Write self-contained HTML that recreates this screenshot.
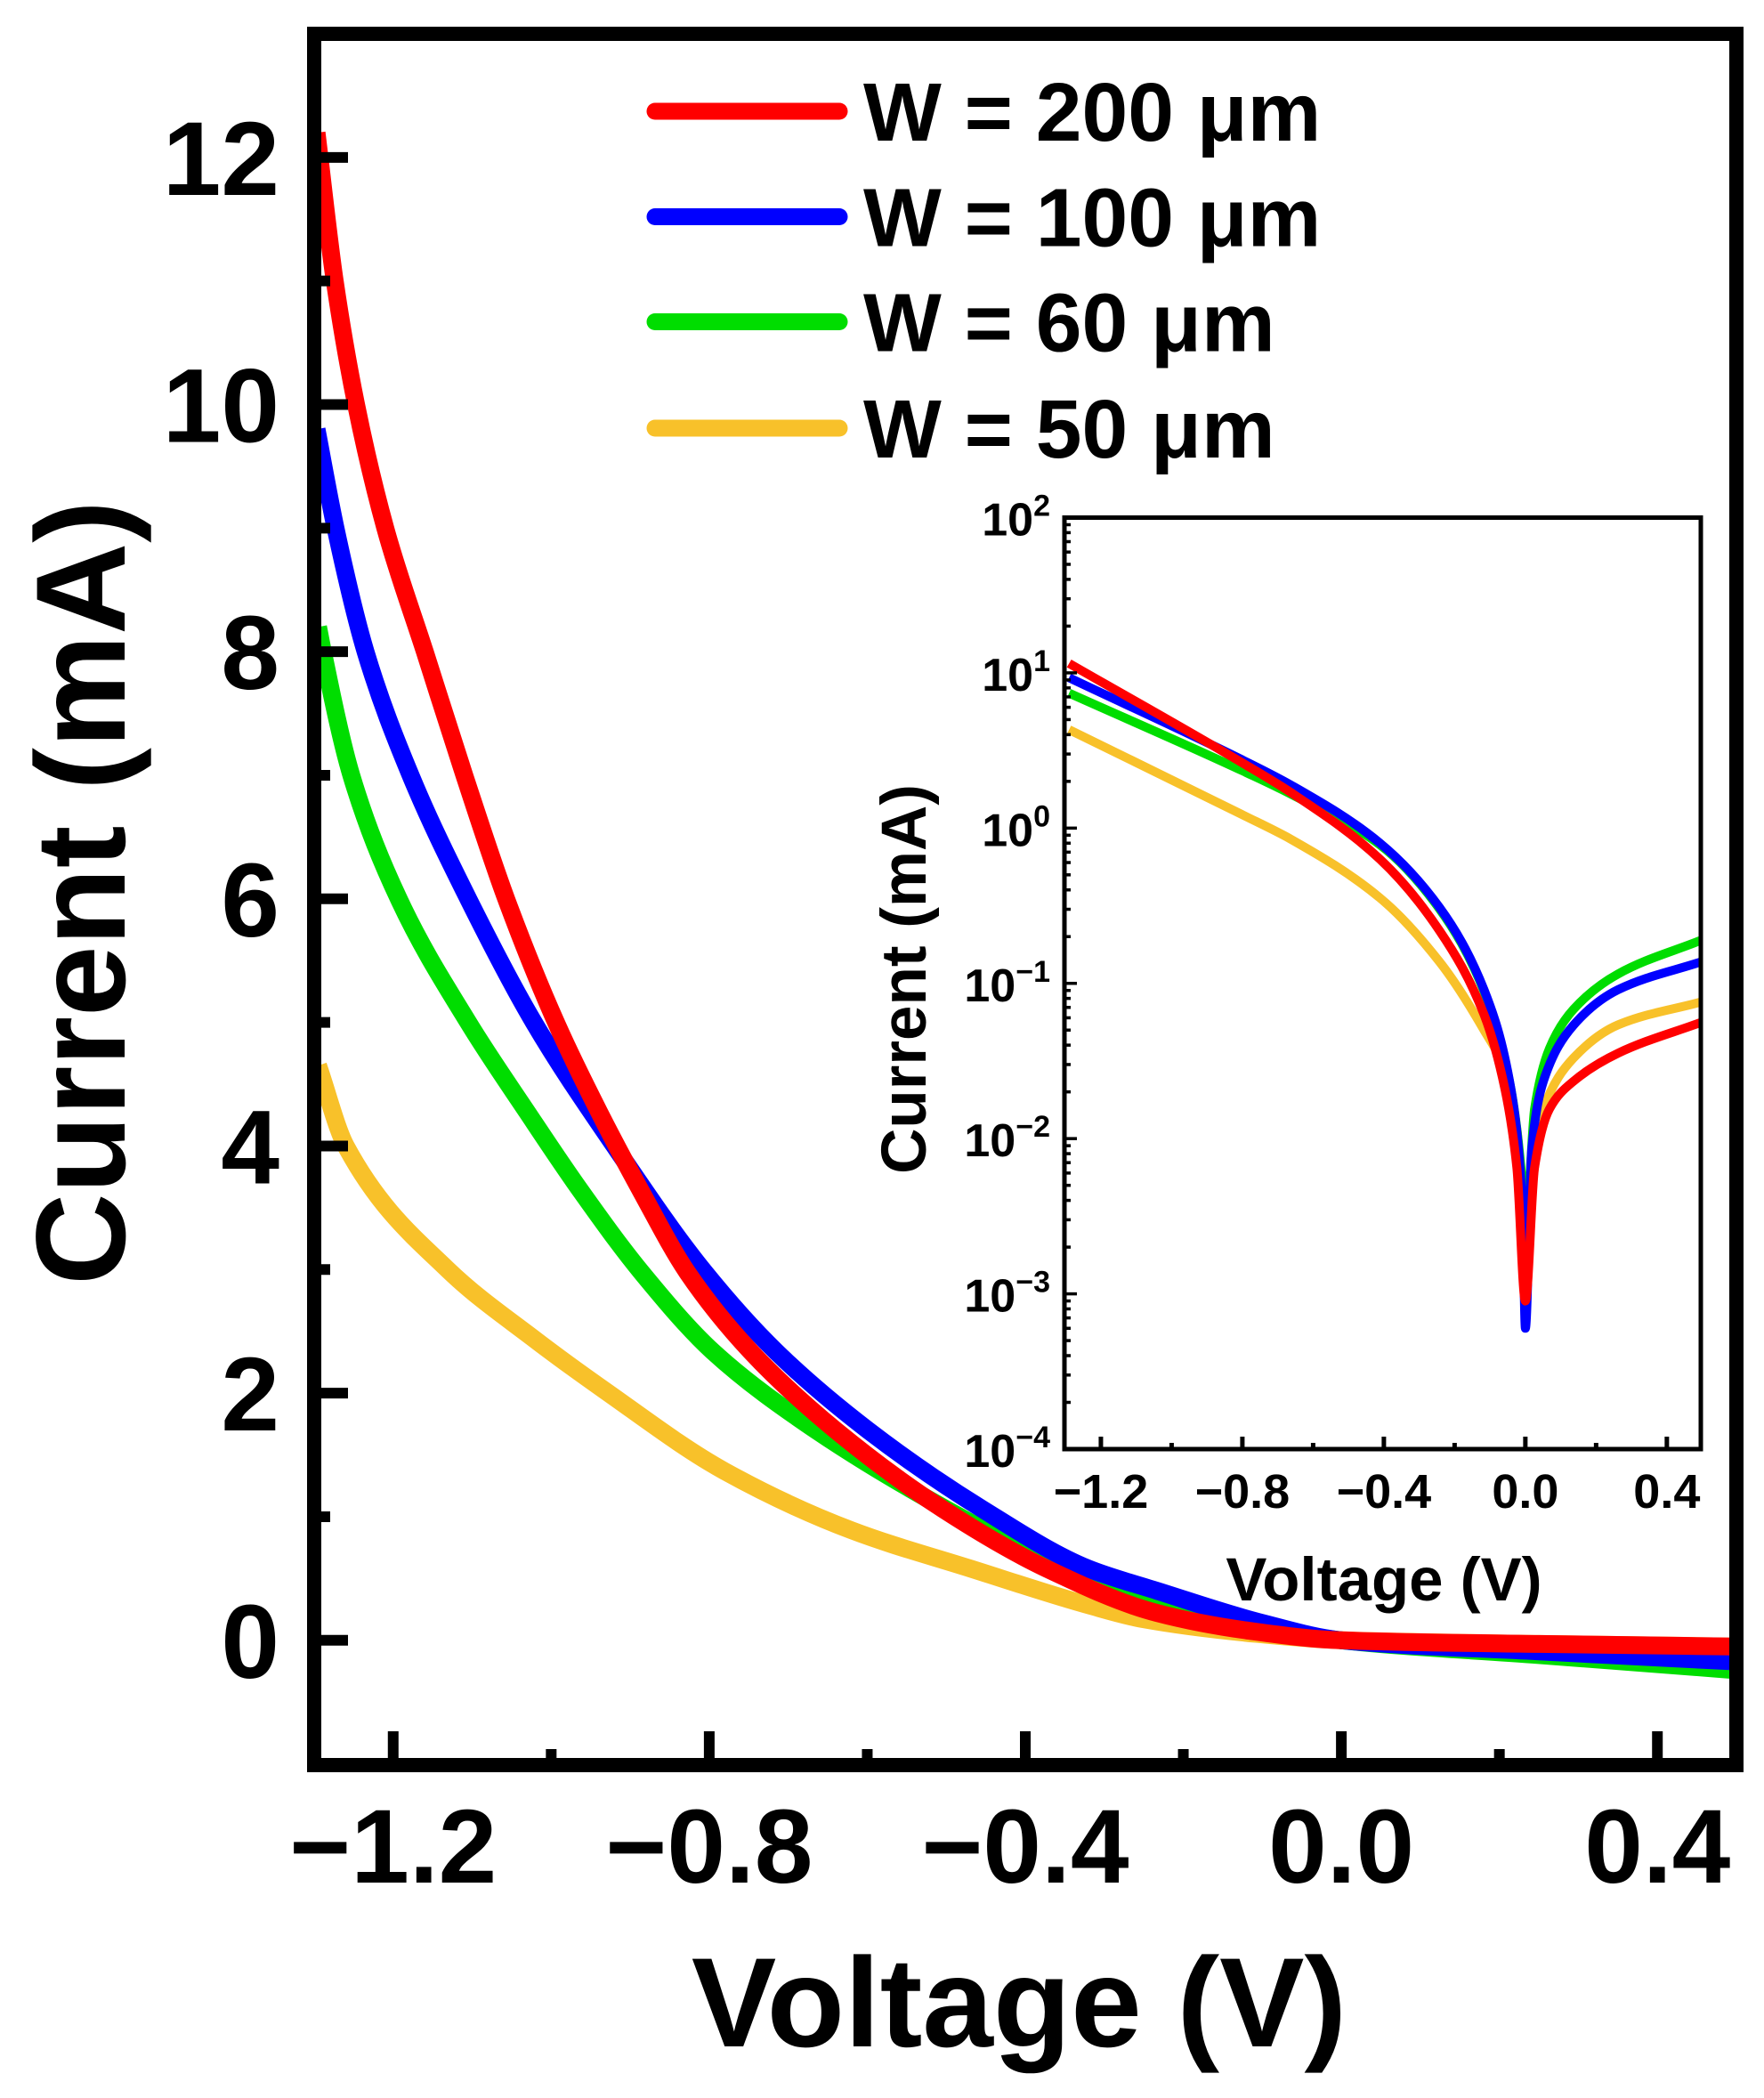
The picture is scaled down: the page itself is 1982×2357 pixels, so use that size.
<!DOCTYPE html>
<html><head><meta charset="utf-8"><style>
html,body{margin:0;padding:0;background:#fff;}
svg{display:block;font-family:"Liberation Sans",Arial,sans-serif;font-weight:bold;}
</style></head><body>
<svg id="chart" width="1982" height="2357" viewBox="0 0 1982 2357" xmlns="http://www.w3.org/2000/svg">
<rect width="1982" height="2357" fill="#fff"/>
<g id="main"></g>
<g id="inset"></g>
</svg>
<script>
// ---- main chart data ----
const seriesNames = ["W = 200 μm","W = 100 μm","W = 60 μm","W = 50 μm"];
const seriesColors = ["#ff0000","#0000ff","#00dd00","#f8c12a"];
const redV = [-1.297,-1.274,-1.247,-1.21,-1.16,-1.11,-1.057,-0.994,-0.939,-0.886,-0.828,-0.748,-0.64,-0.504,-0.373,-0.233,-0.12,0,0.25,0.495];
const redI = [12.2,11,10,9,8,7,6,5,4.27,3.63,2.98,2.34,1.7,1.06,0.58,0.22,0.08,0,-0.03,-0.05];
const blueV = [-1.297,-1.273,-1.235,-1.178,-1.105,-1.022,-0.92,-0.806,-0.716,-0.599,-0.454,-0.32,-0.233,-0.1,0,0.25,0.495];
const blueI = [9.8,9,8,7,6,5,4,2.98,2.34,1.7,1.06,0.58,0.4,0.14,0,-0.09,-0.17];
const greenV = [-1.295,-1.289,-1.253,-1.193,-1.105,-1.03,-0.962,-0.886,-0.796,-0.665,-0.5,-0.36,-0.233,-0.1,0,0.25,0.495];
const greenI = [8.2,8,7,6,5,4.27,3.63,2.98,2.34,1.7,1.06,0.6,0.28,0.1,0,-0.12,-0.24];
const yellowV = [-1.295,-1.26,-1.131,-1.022,-0.932,-0.781,-0.62,-0.469,-0.318,-0.25,-0.12,0,0.25,0.495];
const yellowI = [4.65,4,3,2.44,2.02,1.37,0.89,0.58,0.28,0.17,0.06,0,-0.03,-0.05];
const xTickVals = [-1.2,-0.8,-0.4,0.0,0.4];
const xTickLabels = ["\u22121.2","\u22120.8","\u22120.4","0.0","0.4"];
const yTickVals = [0,2,4,6,8,10,12];
const yTickLabels = ["0","2","4","6","8","10","12"];
// ---- inset data (mA, absolute) ----
const inRedV = [-1.29,-0.8,-0.664,-0.411,-0.243,-0.117,-0.058,-0.024,0,0.026,0.068,0.136,0.262,0.498];
const inRedI = [11.5,2.63,1.7,0.63,0.219,0.063,0.021,0.0065,0.0009,0.0065,0.0155,0.0234,0.0355,0.0562];
const inBlueV = [-1.29,-0.8,-0.664,-0.411,-0.243,-0.117,-0.041,-0.008,0,0.018,0.051,0.136,0.262,0.498];
const inBlueI = [9.3,2.75,1.9,0.8,0.309,0.091,0.021,0.0035,0.0006,0.0085,0.0234,0.0537,0.091,0.138];
const inGreenV = [-1.29,-0.8,-0.664,-0.411,-0.243,-0.117,-0.041,-0.008,0,0.026,0.068,0.136,0.262,0.498];
const inGreenI = [7.4,2.34,1.66,0.78,0.302,0.089,0.021,0.005,0.0025,0.0155,0.038,0.068,0.115,0.19];
const inYellowV = [-1.29,-0.8,-0.664,-0.411,-0.243,-0.117,-0.058,-0.024,0,0.051,0.136,0.262,0.498];
const inYellowI = [4.3,1.22,0.85,0.355,0.138,0.05,0.0275,0.0115,0.0032,0.0155,0.033,0.054,0.076];
const inXTickVals = [-1.2,-0.8,-0.4,0.0,0.4];
const inXTickLabels = ["\u22121.2","\u22120.8","\u22120.4","0.0","0.4"];
const inYExps = [2,1,0,-1,-2,-3,-4];
const inYExpLabels = ["2","1","0","\u22121","\u22122","\u22123","\u22124"];

const NS="http://www.w3.org/2000/svg";
function mk(tag,attrs,parent){const e=document.createElementNS(NS,tag);for(const k in attrs)e.setAttribute(k,attrs[k]);parent.appendChild(e);return e;}

const L=353,R=1951,T=38,B=1983;
const xMin=-1.3,xMax=0.5,yMin=-1.01,yMax=13.0;
const xS=v=>L+(v-xMin)/(xMax-xMin)*(R-L);
const yS=i=>B-(i-yMin)/(yMax-yMin)*(B-T);
const main=document.getElementById('main');

function pathFrom(V,I,xs,ys){
  const x=V.map(xs), y=I.map(ys), n=x.length;
  const d=[],m=new Array(n);
  for(let k=0;k<n-1;k++) d.push((y[k+1]-y[k])/(x[k+1]-x[k]));
  m[0]=d[0]; m[n-1]=d[n-2];
  for(let k=1;k<n-1;k++){
    if(d[k-1]*d[k]<=0) m[k]=0;
    else { const h0=x[k]-x[k-1],h1=x[k+1]-x[k];
      const w1=2*h1+h0,w2=h1+2*h0; m[k]=(w1+w2)/(w1/d[k-1]+w2/d[k]); }
  }
  let p="M"+x[0].toFixed(1)+","+y[0].toFixed(1);
  for(let k=0;k<n-1;k++){
    const h=(x[k+1]-x[k])/3;
    p+=" C"+(x[k]+h).toFixed(1)+","+(y[k]+m[k]*h).toFixed(1)+" "+(x[k+1]-h).toFixed(1)+","+(y[k+1]-m[k+1]*h).toFixed(1)+" "+x[k+1].toFixed(1)+","+y[k+1].toFixed(1);
  }
  return p;
}
const defs=mk('defs',{},main);
const cp=mk('clipPath',{id:'mainclip'},defs);
mk('rect',{x:L,y:T,width:R-L,height:B-T},cp);
const cg=mk('g',{'clip-path':'url(#mainclip)'},main);
const mainSeries=[[yellowV,yellowI,3,'curve-w50'],[greenV,greenI,2,'curve-w60'],[blueV,blueI,1,'curve-w100'],[redV,redI,0,'curve-w200']];
mainSeries.forEach(s=>{
  const e=mk('path',{d:pathFrom(s[0],s[1],xS,yS),fill:'none',stroke:seriesColors[s[2]],'stroke-width':20,'stroke-linejoin':'round','stroke-linecap':'butt'},cg);
  
  
});
for(let k=0;k<=8;k++){
  const v=-1.2+k*0.2;
  const major=k%2===0;
  const e=mk('line',{x1:xS(v),x2:xS(v),y1:B,y2:B-(major?38:18),stroke:'#000','stroke-width':12},main);
  
  
}
for(let i=0;i<=13;i++){
  const major=i%2===0;
  const e=mk('line',{x1:L,x2:L+(major?38:18),y1:yS(i),y2:yS(i),stroke:'#000','stroke-width':12},main);
  
  
}
const fr=mk('rect',{x:L,y:T,width:R-L,height:B-T,fill:'none',stroke:'#000','stroke-width':16},main);


xTickVals.forEach((v,k)=>{
  const t=mk('text',{x:xS(v),y:2115,'font-size':118,'text-anchor':'middle'},main);
  t.textContent=xTickLabels[k];
  
  
});
yTickVals.forEach((v,k)=>{
  const t=mk('text',{x:314,y:yS(v)+42,'font-size':118,'text-anchor':'end'},main);
  t.textContent=yTickLabels[k];
  
  
});
const xt=mk('text',{x:1145,y:2299,'font-size':143,'text-anchor':'middle'},main);
xt.textContent="Voltage (V)";


const yt=mk('text',{x:0,y:0,'font-size':143,'text-anchor':'middle',transform:'translate(140,1003) rotate(-90)'},main);
yt.textContent="Current (mA)";


const legY=[125,243.5,361.5,481];
seriesNames.forEach((n,k)=>{
  const g=mk('g',{},main);
  
  
  mk('line',{x1:736,x2:943,y1:legY[k],y2:legY[k],stroke:seriesColors[k],'stroke-width':19,'stroke-linecap':'round'},g);
  const t=mk('text',{x:970,y:legY[k]+33,'font-size':93},g);
  t.textContent=n;
});

// inset
const iL=1196,iR=1911,iT=581.5,iB=1628;
const ixMin=-1.303,ixMax=0.496,iyMin=-4,iyMax=2;
const ixS=v=>iL+(v-ixMin)/(ixMax-ixMin)*(iR-iL);
const iyS=c=>iB-(Math.log10(c)-iyMin)/(iyMax-iyMin)*(iB-iT);
const inset=document.getElementById('inset');
mk('rect',{x:iL,y:iT,width:iR-iL,height:iB-iT,fill:'#fff'},inset);
const cp2=mk('clipPath',{id:'inclip'},defs);
mk('rect',{x:iL,y:iT,width:iR-iL,height:iB-iT},cp2);
const ig=mk('g',{'clip-path':'url(#inclip)'},inset);
const inSeries=[[inYellowV,inYellowI,3,'inset-curve-w50'],[inGreenV,inGreenI,2,'inset-curve-w60'],[inBlueV,inBlueI,1,'inset-curve-w100'],[inRedV,inRedI,0,'inset-curve-w200']];
inSeries.forEach(s=>{
  const e=mk('path',{d:pathFrom(s[0],s[1],ixS,iyS),fill:'none',stroke:seriesColors[s[2]],'stroke-width':10,'stroke-linejoin':'round'},ig);
  
  
});
for(let k=0;k<=8;k++){
  const v=-1.2+k*0.2;
  mk('line',{x1:ixS(v),x2:ixS(v),y1:iB,y2:iB-(k%2===0?14:7),stroke:'#000','stroke-width':5},inset);
}
for(let e=-4;e<2;e++){
  for(let m=1;m<10;m++){
    const y=iyS(m*Math.pow(10,e));
    mk('line',{x1:iL,x2:iL+(m===1?14:7),y1:y,y2:y,stroke:'#000','stroke-width':3.5},inset);
  }
}
const ifr=mk('rect',{x:iL,y:iT,width:iR-iL,height:iB-iT,fill:'none',stroke:'#000','stroke-width':5},inset);


inXTickVals.forEach((v,k)=>{
  const t=mk('text',{x:ixS(v),y:1694,'font-size':54,'text-anchor':'middle'},inset);
  t.textContent=inXTickLabels[k];
  
  
});
inYExps.forEach((ex,k)=>{
  const t=mk('text',{x:1180,y:iyS(Math.pow(10,ex))+20,'font-size':52,'text-anchor':'end'},inset);
  
  
  const a=mk('tspan',{},t);a.textContent="10";
  const b=mk('tspan',{dy:-22,'font-size':34},t);b.textContent=inYExpLabels[k];
});
const ixt=mk('text',{x:1555,y:1798,'font-size':69,'text-anchor':'middle'},inset);
ixt.textContent="Voltage (V)";


const iyt=mk('text',{x:0,y:0,'font-size':71,'text-anchor':'middle',transform:'translate(1040,1100) rotate(-90)'},inset);
iyt.textContent="Current (mA)";


</script>
</body></html>
